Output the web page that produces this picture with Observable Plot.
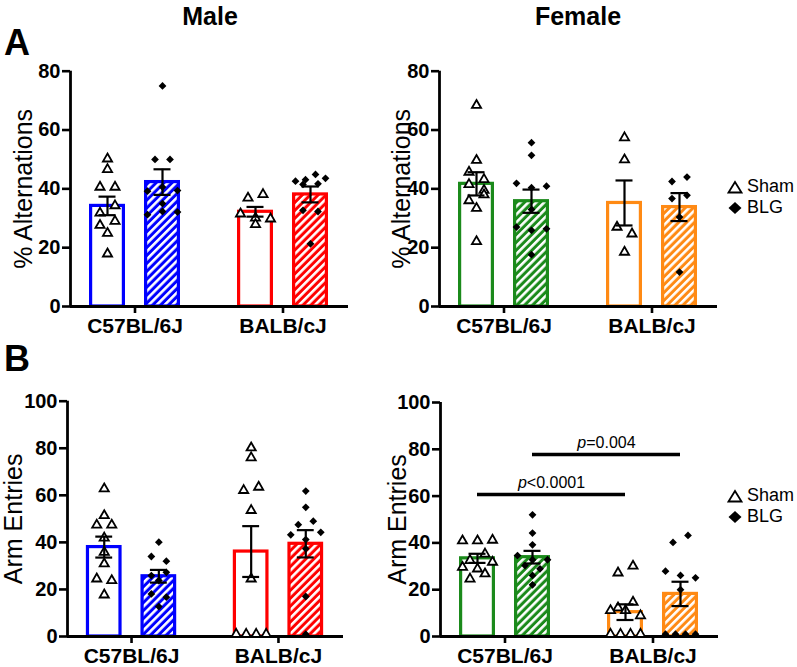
<!DOCTYPE html>
<html><head><meta charset="utf-8">
<script src="https://cdn.jsdelivr.net/npm/d3@7"></script>
<script src="https://cdn.jsdelivr.net/npm/@observablehq/plot@0.6"></script>
<style>
body{margin:0;background:#fff;}
#fig{position:relative;width:797px;height:667px;overflow:hidden;font-family:"Liberation Sans",Arial,Helvetica,sans-serif;color:#000;background:#fff;}
.abs{position:absolute;white-space:nowrap;line-height:1.2;}
.title{font-weight:bold;font-size:25px;width:200px;text-align:center;}
.letter{font-weight:bold;font-size:36px;}
.legend{font-size:18px;}
.legend div{display:flex;align-items:center;height:21px;}
.legend svg{margin-right:4px;}
</style></head><body><div id="fig"></div>
<script>
// ---------- categories / labels ----------
const strains = ["C57BL/6J", "BALB/cJ"];
const treatments = ["Sham", "BLG"];
const sexes = ["Male", "Female"];
const yTicksAlt = [0, 20, 40, 60, 80];
const yTicksArm = [0, 20, 40, 60, 80, 100];
const yLabelAlt = "% Alternations";
const yLabelArm = "Arm Entries";

// ---------- Panel A: % Alternations ----------
const maleAltC57Sham  = [50.2, 46.6, 40.6, 40.6, 31.8, 34.3, 27.6, 29.0, 24.9, 17.9];
const maleAltC57BLG   = [75.0, 50.0, 50.0, 39.2, 40.6, 39.4, 35.0, 31.2, 32.3, 32.1];
const maleAltBALBSham = [36.9, 38.1, 31.5, 30.1, 29.8, 27.9];
const maleAltBALBBLG  = [42.6, 43.1, 44.9, 43.6, 41.5, 41.7, 32.7, 32.3, 21.3];
const maleAltMean = [34.2, 42.3, 32.2, 38.1];
const maleAltSem  = [3.15, 4.35, 1.65, 2.7];

const femAltC57Sham  = [68.4, 49.7, 45.7, 43.2, 41.5, 39.5, 36.0, 38.0, 33.4, 22.1];
const femAltC57BLG   = [55.7, 51.4, 41.9, 40.4, 40.9, 33.0, 27.0, 25.9, 26.4, 17.6];
const femAltBALBSham = [57.4, 49.9, 27.0, 24.7, 18.5];
const femAltBALBBLG  = [42.5, 44.0, 36.7, 37.8, 30.4, 11.7];
const femAltMean = [41.7, 35.8, 35.2, 33.8];
const femAltSem  = [3.95, 3.95, 7.65, 4.75];

// ---------- Panel B: Arm Entries ----------
const maleArmC57Sham  = [62.8, 51.4, 47.4, 47.4, 41.9, 35.8, 30.9, 24.5, 23.8, 17.7];
const maleArmC57BLG   = [40.1, 34.0, 32.0, 25.9, 27.3, 23.8, 18.1, 16.7, 12.7];
const maleArmBALBSham = [80.2, 76.0, 62.1, 63.5, 53.6, 24.5, 1, 1, 1, 1];
const maleArmBALBBLG  = [61.8, 54.9, 47.5, 49.0, 43.2, 41.2, 44.3, 37.3, 17.0, 1];
const maleArmMean = [38.0, 25.6, 36.1, 39.4];
const maleArmSem  = [4.45, 2.7, 10.8, 5.8];

const femArmC57Sham  = [40.9, 40.9, 41.2, 32.5, 35.3, 29.6, 28.9, 31.8, 24.6, 26.8];
const femArmC57BLG   = [52.0, 44.2, 39.2, 34.6, 32.8, 32.8, 30.3, 28.9, 26.1, 22.1];
const femArmBALBSham = [27.2, 30.1, 12.3, 14.7, 11.1, 11.1, 8.9, 1, 1, 1, 1];
const femArmBALBBLG  = [40.2, 43.2, 27.9, 26.1, 25.1, 20.0, 1, 1, 1, 1];
const femArmMean = [33.4, 33.9, 10.4, 18.2];
const femArmSem  = [1.95, 2.7, 3.35, 5.2];

// significance (female arm entries): bar index = strain*2 + treatment
const sigLabels = ["p<0.0001", "p=0.004"];
const sigY      = [60.7, 77.8];
const sigFrom   = [0, 1];
const sigTo     = [2, 3];

// ---------- layout (not data) ----------
const GROUP_GAP = 148, BAR_OFF = 27.5, BAR_HALF = 18, CAP = 8.5;
const X_DOMAIN = [-64.5, 213.5];
const barCenter = b => Math.floor(b / 2) * GROUP_GAP + (b % 2 ? BAR_OFF : -BAR_OFF);
const fig = document.getElementById("fig");

function swarm(values, kY) {
  const idx = values.map((v, i) => i).sort((a, b) => values[b] - values[a] || a - b);
  const rows = []; let cur = null;
  for (const i of idx) {
    if (cur && (values[cur[0]] - values[i]) * kY < 7.5) cur.push(i);
    else { cur = [i]; rows.push(cur); }
  }
  const off = new Array(values.length);
  for (const row of rows) {
    row.sort((a, b) => a - b);
    const n = row.length, sp = n <= 3 ? 15 : 30 / (n - 1);
    row.forEach((i, j) => off[i] = (j - (n - 1) / 2) * sp);
  }
  return off;
}

function panel(cfg) {
  const {id, svgLeft, svgTop, width, height, frameLeft, frameRight, frameTop, frameBottom,
         yMax, yTicks, yLabel, labelDx, colors, groups, means, sems, sig} = cfg;
  const kY = (frameBottom - frameTop) / yMax;
  const kX = (frameRight - frameLeft) / (X_DOMAIN[1] - X_DOMAIN[0]);
  const bars = means.map((m, b) => ({b, strain: Math.floor(b / 2), trt: b % 2, mean: m, sem: sems[b], cx: barCenter(b)}));
  const pts = [];
  groups.forEach((vals, b) => {
    const off = swarm(vals, kY);
    vals.forEach((v, i) => pts.push({b, trt: b % 2, value: v, x: barCenter(b) + off[i] / kX}));
  });
  const inset = 1.6 / kX;
  const marks = [
    ...bars.map(bar => Plot.rectY([bar], {
      x1: d => d.cx - BAR_HALF + inset, x2: d => d.cx + BAR_HALF - inset, y1: 0, y2: "mean",
      fill: bar.trt ? `url(#hatch-${id}-${bar.strain})` : "white",
      stroke: colors[bar.strain], strokeWidth: 3.2
    })),
    Plot.ruleY([0], {stroke: "black", strokeWidth: 2.8}),
    Plot.ruleX([X_DOMAIN[0]], {y1: 0, y2: yMax, stroke: "black", strokeWidth: 2.8}),
    Plot.dot(pts.filter(d => d.trt === 0), {x: "x", y: "value", symbol: "triangle", r: 3.4, fill: "white", stroke: "black", strokeWidth: 1.8}),
    Plot.dot(pts.filter(d => d.trt === 1), {x: "x", y: "value", symbol: "diamond2", r: 3.5, fill: "black"}),
    Plot.ruleX(bars, {x: "cx", y1: d => d.mean - d.sem, y2: d => d.mean + d.sem, stroke: "black", strokeWidth: 2.2}),
    Plot.ruleY(bars, {y: d => d.mean + d.sem, x1: d => d.cx - CAP, x2: d => d.cx + CAP, stroke: "black", strokeWidth: 2.2}),
    Plot.ruleY(bars, {y: d => d.mean - d.sem, x1: d => d.cx - CAP, x2: d => d.cx + CAP, stroke: "black", strokeWidth: 2.2}),
    Plot.axisY({ticks: yTicks, tickSize: 8, tickPadding: 2, fontSize: 20, fontWeight: "bold", strokeWidth: 2.6, label: null}),
    Plot.axisX({ticks: [0, GROUP_GAP], tickFormat: t => strains[Math.round(t / GROUP_GAP)], tickSize: 7, tickPadding: 5,
                fontSize: 21, fontWeight: "bold", strokeWidth: 2.6, label: null}),
    Plot.text([yLabel], {text: d => d, frameAnchor: "left", dx: labelDx, rotate: -90, fontSize: 25,
                         textAnchor: "middle", lineAnchor: "middle"})
  ];
  if (sig) {
    const sd = sig.labels.map((l, i) => ({label: l, y: sig.y[i], from: sig.from[i], to: sig.to[i]}));
    marks.push(Plot.ruleY(sd, {y: "y", x1: d => barCenter(d.from), x2: d => barCenter(d.to), stroke: "black", strokeWidth: 3.5}));
    marks.push(Plot.text(sd, {x: d => (barCenter(d.from) + barCenter(d.to)) / 2, y: "y", text: "label", fontSize: 16, lineAnchor: "bottom", dy: -6}));
  }
  const svg = Plot.plot({
    width, height,
    marginLeft: frameLeft - svgLeft, marginRight: svgLeft + width - frameRight,
    marginTop: frameTop - svgTop, marginBottom: svgTop + height - frameBottom,
    x: {domain: X_DOMAIN, label: null},
    y: {domain: [0, yMax], label: null},
    style: {fontFamily: '"Liberation Sans", Arial, Helvetica, sans-serif', color: "black", background: "transparent", overflow: "visible"},
    marks
  });
  // hatch patterns
  const ns = "http://www.w3.org/2000/svg";
  const defs = document.createElementNS(ns, "defs");
  colors.forEach((c, s) => {
    const p = document.createElementNS(ns, "pattern");
    p.setAttribute("id", `hatch-${id}-${s}`);
    p.setAttribute("patternUnits", "userSpaceOnUse");
    p.setAttribute("width", 5.6); p.setAttribute("height", 5.6);
    p.setAttribute("patternTransform", "rotate(45)");
    const r1 = document.createElementNS(ns, "rect");
    r1.setAttribute("width", 5.6); r1.setAttribute("height", 5.6); r1.setAttribute("fill", c);
    const r2 = document.createElementNS(ns, "rect");
    r2.setAttribute("width", 2.6); r2.setAttribute("height", 5.6); r2.setAttribute("fill", "white");
    p.appendChild(r1); p.appendChild(r2); defs.appendChild(p);
  });
  svg.insertBefore(defs, svg.firstChild);
  // italic p in significance labels
  svg.querySelectorAll("text").forEach(t => {
    const s = t.textContent;
    if (/^p[<=]/.test(s) && t.children.length === 0) {
      t.textContent = "";
      const a = document.createElementNS(ns, "tspan"); a.setAttribute("font-style", "italic"); a.textContent = "p";
      const b = document.createElementNS(ns, "tspan"); b.textContent = s.slice(1);
      t.appendChild(a); t.appendChild(b);
    }
  });
  svg.style.position = "absolute";
  svg.style.left = svgLeft + "px";
  svg.style.top = svgTop + "px";
  fig.appendChild(svg);
}

const maleColors = ["#0000ff", "#ff0000"];
const femColors = ["#1b8a1b", "#ff8a14"];

panel({id: "mA", svgLeft: 0, svgTop: 40, width: 380, height: 310, frameLeft: 70, frameRight: 348, frameTop: 70.7, frameBottom: 306,
  yMax: 80, yTicks: yTicksAlt, yLabel: yLabelAlt, labelDx: -46.5, colors: maleColors,
  groups: [maleAltC57Sham, maleAltC57BLG, maleAltBALBSham, maleAltBALBBLG], means: maleAltMean, sems: maleAltSem});
panel({id: "fA", svgLeft: 380, svgTop: 40, width: 340, height: 310, frameLeft: 439, frameRight: 717, frameTop: 70.7, frameBottom: 306,
  yMax: 80, yTicks: yTicksAlt, yLabel: yLabelAlt, labelDx: -38, colors: femColors,
  groups: [femAltC57Sham, femAltC57BLG, femAltBALBSham, femAltBALBBLG], means: femAltMean, sems: femAltSem});
panel({id: "mB", svgLeft: 0, svgTop: 360, width: 380, height: 307, frameLeft: 67, frameRight: 343, frameTop: 400.7, frameBottom: 636,
  yMax: 100, yTicks: yTicksArm, yLabel: yLabelArm, labelDx: -54, colors: maleColors,
  groups: [maleArmC57Sham, maleArmC57BLG, maleArmBALBSham, maleArmBALBBLG], means: maleArmMean, sems: maleArmSem});
panel({id: "fB", svgLeft: 380, svgTop: 360, width: 340, height: 307, frameLeft: 440, frameRight: 718, frameTop: 402, frameBottom: 636,
  yMax: 100, yTicks: yTicksArm, yLabel: yLabelArm, labelDx: -43, colors: femColors,
  groups: [femArmC57Sham, femArmC57BLG, femArmBALBSham, femArmBALBBLG], means: femArmMean, sems: femArmSem,
  sig: {labels: sigLabels, y: sigY, from: sigFrom, to: sigTo}});

// titles and panel letters
function addText(txt, cls, left, top) {
  const d = document.createElement("div");
  d.className = "abs " + cls; d.textContent = txt;
  d.style.left = left + "px"; d.style.top = top + "px";
  fig.appendChild(d);
}
addText(sexes[0], "title", 110, 1);
addText(sexes[1], "title", 478, 1);
addText("A", "letter", 4, 21);
addText("B", "letter", 4, 337);

// legends
function legend(top) {
  const d = document.createElement("div");
  d.className = "abs legend"; d.style.left = "727px"; d.style.top = top + "px";
  d.innerHTML =
    `<div><svg width="16" height="14"><path d="M8,2 L14.5,12.5 L1.5,12.5 Z" fill="white" stroke="black" stroke-width="1.8"/></svg>${treatments[0]}</div>` +
    `<div><svg width="16" height="14"><path d="M8,1 L14.5,7 L8,13 L1.5,7 Z" fill="black"/></svg>${treatments[1]}</div>`;
  fig.appendChild(d);
}
legend(176);
legend(485);
</script></body></html>
